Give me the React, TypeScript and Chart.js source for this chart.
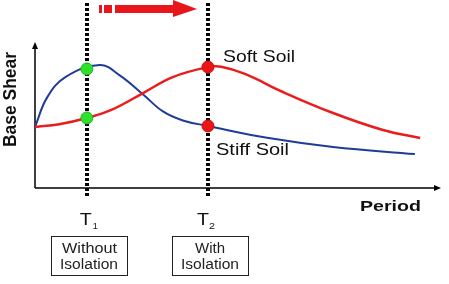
import React, { useEffect, useRef } from "react";
import { Chart, registerables } from "chart.js";

Chart.register(...registerables);

// Period (x) values, arbitrary units 0..100
const stiffX = [0, 3.0, 7.5, 16.0, 21.0, 26.7, 31.6, 36.5, 42.7, 57.3, 73.6, 93.8];
const stiffY = [42.1, 62.5, 76.5, 84.8, 77.5, 64.5, 52.8, 46.6, 42.8, 34.6, 28.3, 23.4];
const softX = [0, 6.0, 12.8, 19.0, 26.7, 34.0, 42.7, 46.0, 52.0, 61.2, 73.6, 85.9, 95.1];
const softY = [42.1, 44.0, 48.3, 54.0, 65.5, 76.5, 83.4, 83.6, 78.5, 66.2, 51.7, 40.0, 34.5];
const T1 = 12.8;
const T2 = 42.7;
const markT1 = [82.1, 48.3];
const markT2 = [83.4, 42.8];
const axisTitleY = "Base Shear";
const axisTitleX = "Period";
const softLabel = "Soft Soil";
const stiffLabel = "Stiff Soil";
const boxLabels = [["Without", "Isolation"], ["With", "Isolation"]];

const FONT = '"Liberation Sans", Arial, sans-serif';

function fitText(ctx: CanvasRenderingContext2D, text: string, left: number, baseline: number, width: number, font: string) {
  ctx.save();
  ctx.font = font;
  ctx.textAlign = "left";
  ctx.textBaseline = "alphabetic";
  const w = ctx.measureText(text).width;
  const sx = width / w;
  ctx.translate(left, baseline);
  ctx.scale(sx, 1);
  ctx.fillText(text, 0, 0);
  ctx.restore();
}

const decorPlugin = {
  id: "decor",
  beforeDatasetsDraw(chart: any) {
    const ctx: CanvasRenderingContext2D = chart.ctx;
    const xs = chart.scales.x;
    const ys = chart.scales.y;
    const x0 = xs.getPixelForValue(0);
    const y0 = ys.getPixelForValue(0);
    ctx.save();
    // axes
    ctx.strokeStyle = "#000";
    ctx.fillStyle = "#000";
    ctx.lineWidth = 1.5;
    ctx.beginPath();
    ctx.moveTo(x0, y0);
    ctx.lineTo(x0, ys.top + 3);
    ctx.moveTo(x0, y0);
    ctx.lineTo(xs.right - 3, y0);
    ctx.stroke();
    ctx.beginPath();
    ctx.moveTo(x0, ys.top - 1);
    ctx.lineTo(x0 - 3, ys.top + 6);
    ctx.lineTo(x0 + 3, ys.top + 6);
    ctx.closePath();
    ctx.fill();
    ctx.beginPath();
    ctx.moveTo(xs.right + 1, y0);
    ctx.lineTo(xs.right - 6, y0 - 3);
    ctx.lineTo(xs.right - 6, y0 + 3);
    ctx.closePath();
    ctx.fill();
    // dashed verticals
    ctx.setLineDash([3, 2]);
    ctx.lineWidth = 4;
    for (const t of [T1, T2]) {
      const px = Math.round(xs.getPixelForValue(t));
      ctx.beginPath();
      ctx.moveTo(px, 3);
      ctx.lineTo(px, 198);
      ctx.stroke();
    }
    ctx.setLineDash([]);
    // red arrow
    ctx.fillStyle = "#e8161b";
    ctx.fillRect(99, 5, 3, 8);
    ctx.fillRect(104, 5, 8, 8);
    ctx.fillRect(115, 5, 59, 8);
    ctx.beginPath();
    ctx.moveTo(173, 0);
    ctx.lineTo(197, 9);
    ctx.lineTo(173, 17);
    ctx.closePath();
    ctx.fill();
    ctx.restore();
  },
  afterDraw(chart: any) {
    const ctx: CanvasRenderingContext2D = chart.ctx;
    const xs = chart.scales.x;
    ctx.save();
    ctx.fillStyle = "#111";
    // y title rotated
    ctx.save();
    ctx.translate(16, 99.5);
    ctx.rotate(-Math.PI / 2);
    ctx.font = "bold 18px " + FONT;
    const w = ctx.measureText(axisTitleY).width;
    ctx.scale(95 / w, 1);
    ctx.textAlign = "center";
    ctx.textBaseline = "alphabetic";
    ctx.fillText(axisTitleY, 0, 0);
    ctx.restore();
    fitText(ctx, axisTitleX, 360, 211, 61, "bold 15px " + FONT);
    fitText(ctx, softLabel, 223, 62, 72, "17px " + FONT);
    fitText(ctx, stiffLabel, 216, 155, 73, "17px " + FONT);
    // T labels
    const p1 = xs.getPixelForValue(T1);
    const p2 = xs.getPixelForValue(T2);
    fitText(ctx, "T", p1 - 7, 225, 12, "17px " + FONT);
    fitText(ctx, "1", p1 + 6, 229, 5, "9px " + FONT);
    fitText(ctx, "T", p2 - 11, 225, 12, "17px " + FONT);
    fitText(ctx, "2", p2 + 1, 229, 6, "9px " + FONT);
    // boxes
    ctx.strokeStyle = "#222";
    ctx.lineWidth = 1;
    ctx.strokeRect(51.5, 236.5, 76, 39);
    ctx.strokeRect(172.5, 236.5, 76, 39);
    ctx.fillStyle = "#222";
    fitText(ctx, boxLabels[0][0], 62, 253, 55, "14px " + FONT);
    fitText(ctx, boxLabels[0][1], 60, 269, 58, "14px " + FONT);
    fitText(ctx, boxLabels[1][0], 195, 253, 30, "14px " + FONT);
    fitText(ctx, boxLabels[1][1], 181, 269, 58, "14px " + FONT);
    ctx.restore();
  },
};

export default function App() {
  const ref = useRef<HTMLCanvasElement>(null);
  useEffect(() => {
    if (!ref.current) return;
    const chart = new Chart(ref.current, {
      type: "scatter",
      data: {
        datasets: [
          {
            label: "Stiff Soil",
            data: stiffX.map((x, i) => ({ x, y: stiffY[i] })),
            showLine: true,
            borderColor: "#1f3c98",
            borderWidth: 2,
            pointRadius: 0,
            tension: 0.4,
            order: 3,
          },
          {
            label: "Soft Soil",
            data: softX.map((x, i) => ({ x, y: softY[i] })),
            showLine: true,
            borderColor: "#ea1c1c",
            borderWidth: 2.5,
            pointRadius: 0,
            tension: 0.4,
            order: 2,
          },
          {
            label: "T1",
            data: markT1.map((y) => ({ x: T1, y })),
            pointRadius: 6,
            backgroundColor: "#2fe02f",
            borderColor: "#22b022",
            borderWidth: 1,
            order: 1,
          },
          {
            label: "T2",
            data: markT2.map((y) => ({ x: T2, y })),
            pointRadius: 6,
            backgroundColor: "#ec1414",
            borderColor: "#c80f0f",
            borderWidth: 1,
            order: 1,
          },
        ],
      } as any,
      options: {
        animation: false,
        responsive: false,
        layout: { padding: { left: 35, right: 9, top: 43, bottom: 96 } },
        plugins: { legend: { display: false }, tooltip: { enabled: false } },
        scales: {
          x: { type: "linear", min: 0, max: 100, display: false },
          y: { type: "linear", min: 0, max: 100, display: false },
        },
      },
      plugins: [decorPlugin],
    });
    return () => chart.destroy();
  }, []);
  return (
    <div style={{ position: "absolute", left: 0, top: 0, width: 449, height: 284, background: "#fff" }}>
      <canvas ref={ref} width={449} height={284} style={{ display: "block" }} />
    </div>
  );
}
